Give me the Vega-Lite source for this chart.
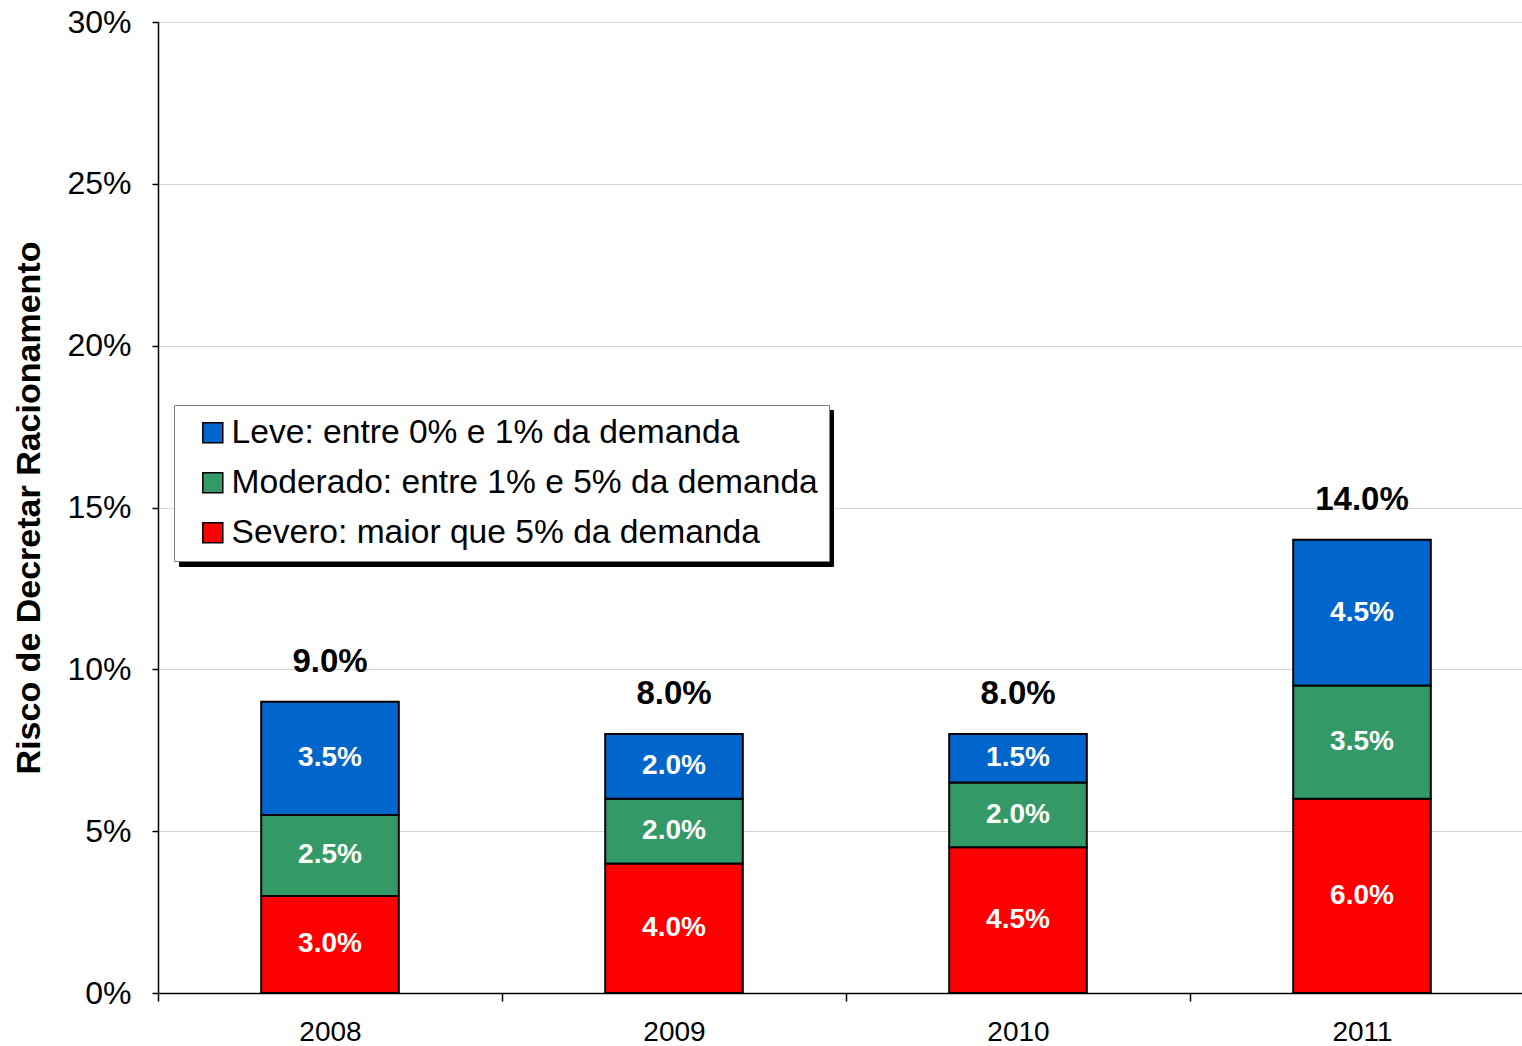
{
  "$schema": "https://vega.github.io/schema/vega-lite/v6.json",
  "width": 1364,
  "height": 971,
  "autosize": {"type": "none"},
  "padding": {"left": 158, "top": 22, "right": 0, "bottom": 53},
  "background": "white",
  "config": {"font": "Liberation Sans", "view": {"stroke": null}},
  "data": {
    "values": [
      {"year": "2008", "nivel": "Severo: maior que 5% da demanda", "value": 0.030, "ord": 1},
      {"year": "2008", "nivel": "Moderado: entre 1% e 5% da demanda", "value": 0.025, "ord": 2},
      {"year": "2008", "nivel": "Leve: entre 0% e 1% da demanda", "value": 0.035, "ord": 3},
      {"year": "2009", "nivel": "Severo: maior que 5% da demanda", "value": 0.040, "ord": 1},
      {"year": "2009", "nivel": "Moderado: entre 1% e 5% da demanda", "value": 0.020, "ord": 2},
      {"year": "2009", "nivel": "Leve: entre 0% e 1% da demanda", "value": 0.020, "ord": 3},
      {"year": "2010", "nivel": "Severo: maior que 5% da demanda", "value": 0.045, "ord": 1},
      {"year": "2010", "nivel": "Moderado: entre 1% e 5% da demanda", "value": 0.020, "ord": 2},
      {"year": "2010", "nivel": "Leve: entre 0% e 1% da demanda", "value": 0.015, "ord": 3},
      {"year": "2011", "nivel": "Severo: maior que 5% da demanda", "value": 0.060, "ord": 1},
      {"year": "2011", "nivel": "Moderado: entre 1% e 5% da demanda", "value": 0.035, "ord": 2},
      {"year": "2011", "nivel": "Leve: entre 0% e 1% da demanda", "value": 0.045, "ord": 3}
    ]
  },
  "transform": [
    {"stack": "value", "groupby": ["year"], "sort": [{"field": "ord"}], "as": ["v0", "v1"]},
    {"calculate": "(datum.v0 + datum.v1) / 2", "as": "mid"}
  ],
  "encoding": {
    "x": {
      "field": "year",
      "type": "ordinal",
      "scale": {"range": [0, 1376], "paddingInner": 0, "paddingOuter": 0},
      "axis": {
        "title": null,
        "labelAngle": 0,
        "labelFontSize": 28,
        "labelColor": "black",
        "labelPadding": 17,
        "tickBand": "extent",
        "tickSize": 8,
        "tickColor": "black",
        "tickWidth": 1.5,
        "domainColor": "black",
        "domainWidth": 1.5,
        "grid": false
      }
    }
  },
  "layer": [
    {
      "mark": {"type": "text", "text": ""},
      "encoding": {
        "y": {"field": "mid", "type": "quantitative"},
        "fill": {
          "field": "nivel",
          "type": "nominal",
          "scale": {
            "domain": ["Severo: maior que 5% da demanda", "Moderado: entre 1% e 5% da demanda", "Leve: entre 0% e 1% da demanda"],
            "range": ["black", "black", "black"]
          },
          "legend": {
            "orient": "none",
            "legendX": 21,
            "legendY": 388,
            "title": null,
            "fillColor": "black",
            "strokeColor": "black",
            "padding": 11,
            "symbolType": "square",
            "symbolSize": 400,
            "symbolStrokeColor": "black",
            "symbolStrokeWidth": 1.5,
            "symbolOpacity": 1,
            "symbolOffset": 11,
            "labelExpr": "''",
            "labelFontSize": 33.6,
            "labelColor": "black",
            "labelOffset": 587,
            "labelLimit": 900,
            "rowPadding": 15
          }
        }
      }
    },
    {
      "mark": {"type": "bar", "stroke": "black", "strokeWidth": 2, "width": {"band": 0.4}},
      "encoding": {
        "y": {
          "field": "v0",
          "type": "quantitative",
          "scale": {"domain": [0, 0.3]},
          "axis": {
            "title": "Risco de Decretar Racionamento",
            "titleFontSize": 34,
            "titleFontWeight": "bold",
            "titleColor": "black",
            "titlePadding": 20,
            "values": [0, 0.05, 0.1, 0.15, 0.2, 0.25, 0.3],
            "format": ".0%",
            "labelFontSize": 32,
            "labelColor": "black",
            "labelPadding": 21,
            "tickSize": 6,
            "tickColor": "black",
            "tickWidth": 1.5,
            "domainColor": "black",
            "domainWidth": 1.5,
            "grid": true,
            "gridColor": "#d4d4d4",
            "gridWidth": 1
          }
        },
        "y2": {"field": "v1"},
        "color": {
          "field": "nivel",
          "type": "nominal",
          "scale": {
            "domain": ["Leve: entre 0% e 1% da demanda", "Moderado: entre 1% e 5% da demanda", "Severo: maior que 5% da demanda"],
            "range": ["#0066CC", "#339966", "#FF0000"]
          },
          "legend": {
            "orient": "none",
            "legendX": 16,
            "legendY": 383,
            "title": null,
            "fillColor": "white",
            "strokeColor": "#808080",
            "padding": 11,
            "symbolType": "square",
            "symbolSize": 400,
            "symbolStrokeColor": "black",
            "symbolStrokeWidth": 1.5,
            "symbolOpacity": 1,
            "symbolOffset": 11,
            "labelFontSize": 33.6,
            "labelColor": "black",
            "labelOffset": 2,
            "labelLimit": 900,
            "rowPadding": 15
          }
        }
      }
    },
    {
      "mark": {"type": "text", "color": "white", "fontWeight": "bold", "fontSize": 28},
      "encoding": {
        "y": {"field": "mid", "type": "quantitative"},
        "text": {"field": "value", "type": "quantitative", "format": ".1%"}
      }
    },
    {
      "transform": [{"aggregate": [{"op": "sum", "field": "value", "as": "total"}], "groupby": ["year"]}],
      "mark": {"type": "text", "color": "black", "fontWeight": "bold", "fontSize": 33, "baseline": "middle", "dy": -40},
      "encoding": {
        "y": {"field": "total", "type": "quantitative"},
        "text": {"field": "total", "type": "quantitative", "format": ".1%"}
      }
    }
  ]
}
